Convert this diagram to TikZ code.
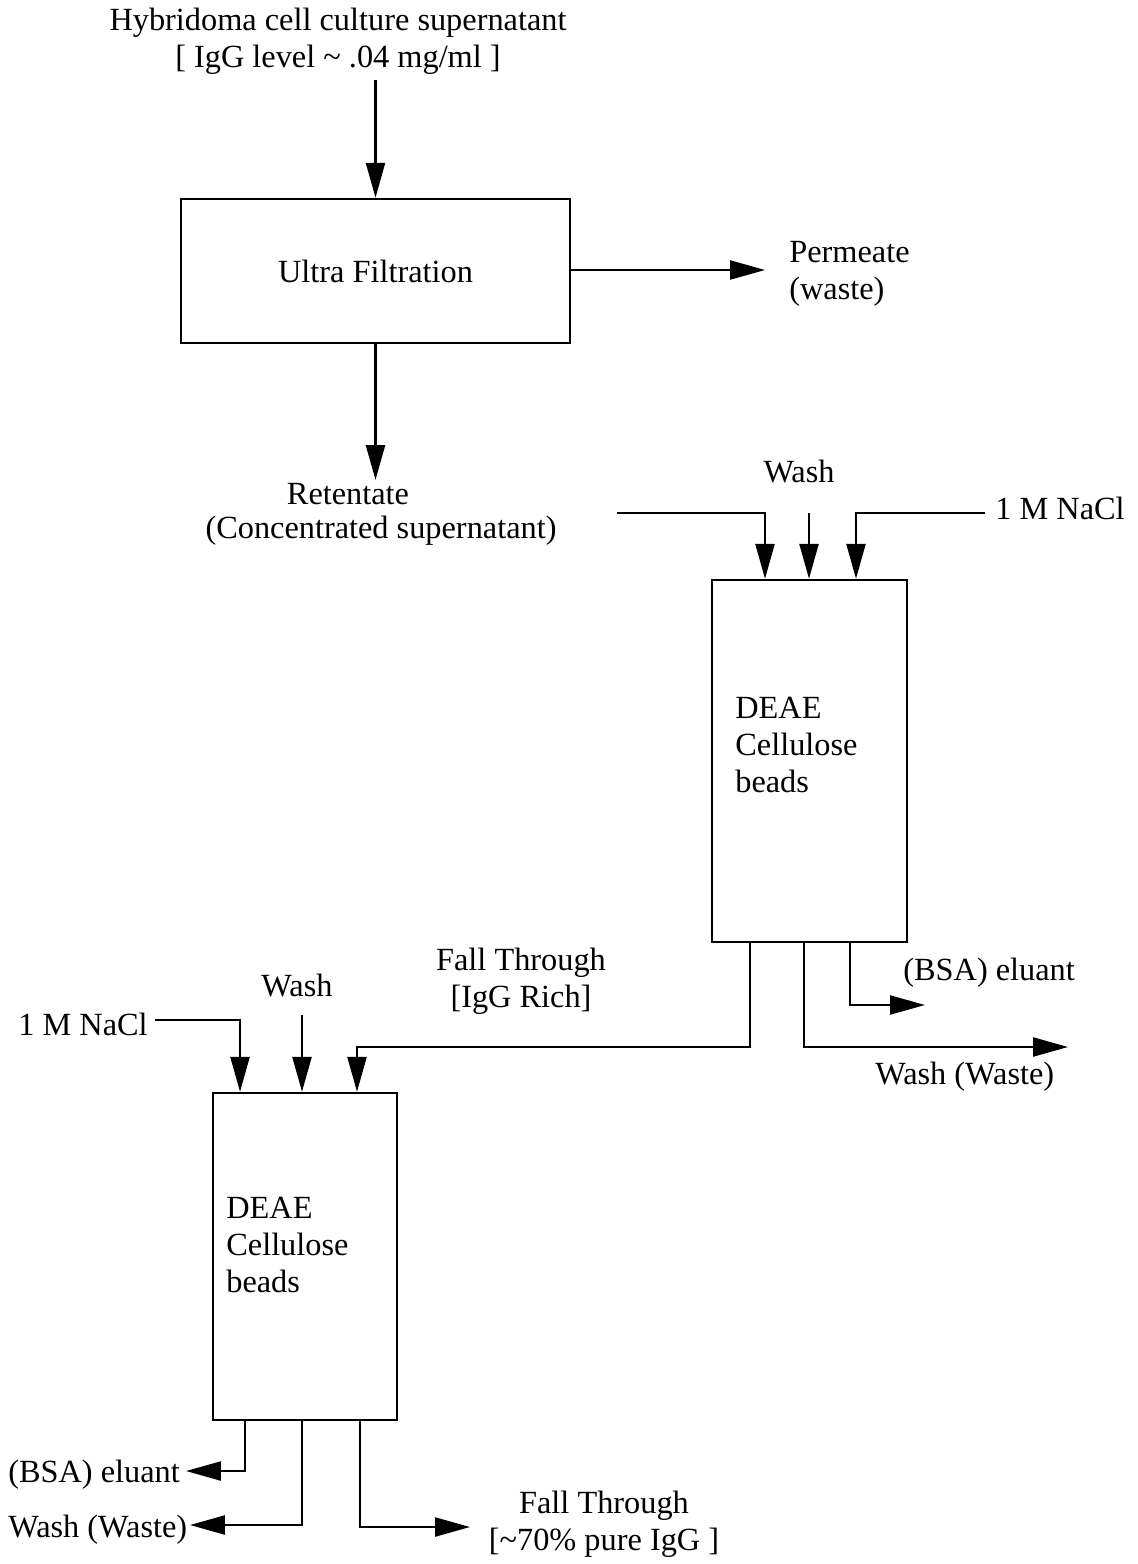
\documentclass[tikz,border=0pt]{standalone}
\usepackage{fontspec}
\setmainfont{Liberation Serif}
\usetikzlibrary{arrows.meta}
\begin{document}
\begin{tikzpicture}[x=0.02cm,y=-0.02cm,
  every node/.style={font=\fontsize{18.4}{21}\selectfont, inner sep=0pt},
  box/.style={draw, line width=1.4pt},
  flow/.style={line width=1.4pt, -{Triangle[length=0.7cm,width=0.38cm]}},
  txt/.style={align=left}]
\useasboundingbox (0,0) rectangle (1137,1564);

% boxes
\node[box, minimum width=7.78cm, minimum height=2.88cm] (uf) at (375.5,271) {Ultra Filtration};
\node[box, minimum width=3.9cm, minimum height=7.24cm] (R) at (809.5,761) {};
\node[box, minimum width=3.68cm, minimum height=6.54cm] (L) at (305,1256.5) {};
\node[txt, anchor=west] (Rtext) at (735,745) {DEAE\\Cellulose\\beads};
\node[txt, anchor=west] (Ltext) at (226,1245) {DEAE\\Cellulose\\beads};

% labels
\node[align=center] (src) at (338,41) {Hybridoma cell culture supernatant\\{}[ IgG level \textasciitilde\ .04 mg/ml ]};
\node[txt, anchor=west] (perm) at (789,273.5) {Permeate\\(waste)};
\node (ret1) at (348,494) {Retentate};
\node (ret2) at (381,531) {(Concentrated supernatant)};
\node (wash1) at (799,472) {Wash};
\node[anchor=west] (nacl1) at (995,508) {1 M NaCl};
\node[anchor=west] (bsa1) at (903,973) {(BSA) eluant};
\node[anchor=west] (waste1) at (875,1077) {Wash (Waste)};
\node[align=center] (ft1) at (521,981) {Fall Through\\{}[IgG Rich]};
\node[anchor=west] (nacl2) at (18,1024) {1 M NaCl};
\node (wash2) at (297,986) {Wash};
\node[anchor=west] (bsa2) at (8,1475) {(BSA) eluant};
\node[anchor=west] (waste2) at (8,1530) {Wash (Waste)};
\node[align=center] (ft2) at (604,1524) {Fall Through\\{}[\textasciitilde 70\% pure IgG ]};

% free ends
\coordinate (srcEnd) at (376,80);
\coordinate (permTip) at (765,270);
\coordinate (retTip) at (376,480);
\coordinate (rinL) at (617,513);
\coordinate (rinM) at (809,513);
\coordinate (rinR) at (985,513);
\coordinate (join) at (357,1047);
\coordinate (waste1Tip) at (1068,1047);
\coordinate (bsa1Tip) at (925,1005);
\coordinate (linL) at (155,1020);
\coordinate (linM) at (302,1015);
\coordinate (bsa2Tip) at (186,1471);
\coordinate (waste2Tip) at (190,1525);
\coordinate (ft2Tip) at (470,1527);

% connectors
\draw[flow] (uf.north |- srcEnd) -- (uf.north);
\draw[flow] (uf.east |- permTip) -- (permTip);
\draw[flow] (uf.south) -- (uf.south |- retTip);

\draw[flow] (rinL) -| ([xshift=-0.89cm]R.north);
\draw[flow] (rinM) -- (rinM |- R.north);
\draw[flow] (rinR) -| ([xshift=0.93cm]R.north);

\draw[flow] ([xshift=-1.19cm]R.south) |- (join) -- (join |- L.north);
\draw[flow] ([xshift=-0.11cm]R.south) |- (waste1Tip);
\draw[flow] ([xshift=0.81cm]R.south) |- (bsa1Tip);

\draw[flow] (linL) -| ([xshift=-1.3cm]L.north);
\draw[flow] (linM) -- (linM |- L.north);

\draw[flow] ([xshift=-1.2cm]L.south) |- (bsa2Tip);
\draw[flow] ([xshift=-0.06cm]L.south) |- (waste2Tip);
\draw[flow] ([xshift=1.1cm]L.south) |- (ft2Tip);
\end{tikzpicture}
\end{document}
